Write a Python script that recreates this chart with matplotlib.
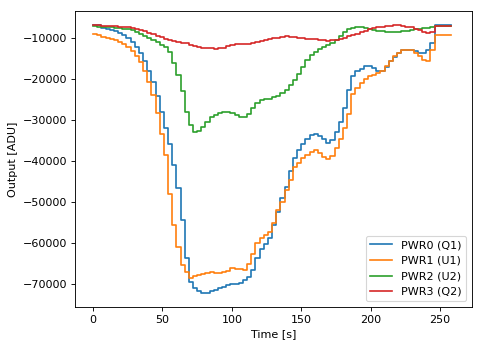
#!/usr/bin/env python3
"""Photodiode outputs of the four power monitors over one sweep."""
import matplotlib

matplotlib.use("Agg")
import matplotlib.pyplot as plt
import numpy as np

DPI = 80

# readout cadence [s]
TIME_S = np.arange(0, 261, 3)

PWR0_Q1 = [
    -6800, -6800, -7700, -7900, -8200, -8400, -8800, -9300, -10000, -11000,
    -12200, -13800, -15600, -18000, -20800, -24200, -28000, -32000, -35800, -41000,
    -46500, -54400, -63500, -69400, -70900, -71600, -72100, -72000, -71600, -71300,
    -71000, -70600, -70200, -70000, -69800, -69600, -69000, -68200, -66500, -63500,
    -61500, -60200, -58800, -55500, -52500, -49000, -46200, -42500, -39200, -37200,
    -35800, -34600, -33700, -33400, -33800, -34700, -35500, -34800, -33000, -30600,
    -27000, -22800, -19300, -18100, -17600, -17000, -16800, -17300, -18000, -18200,
    -17200, -15700, -14600, -13800, -13100, -13000, -13100, -13300, -13600, -13700,
    -13000, -11200, -6800, -6800, -6800, -6800, -6800,
]

PWR1_U1 = [
    -9100, -9300, -9900, -10000, -10200, -10500, -11000, -11600, -12300, -13200,
    -14400, -15900, -18200, -20800, -24000, -28400, -33300, -38500, -48000, -55500,
    -61000, -65200, -67000, -68500, -68000, -67800, -67500, -67300, -67000, -67300,
    -67300, -67100, -66700, -66000, -66200, -66200, -66400, -65000, -62700, -60000,
    -58800, -58000, -57300, -55000, -52000, -50000, -47000, -44500, -41500, -40400,
    -39300, -38500, -37800, -37400, -38000, -39000, -39600, -38800, -36800, -34600,
    -32000, -28500, -23800, -22200, -21000, -20000, -19300, -19000, -18600, -18000,
    -16800, -15600, -14500, -13600, -13000, -12900, -13100, -13600, -14400, -15500,
    -15700, -13000, -9300, -9300, -9300, -9300, -9300,
]

PWR2_U2 = [
    -7200, -7300, -7400, -7400, -7500, -7600, -7600, -7800, -8000, -8200,
    -8600, -9000, -9500, -10000, -10600, -11100, -11700, -12300, -13500, -16200,
    -19100, -22900, -28000, -31300, -32900, -32700, -31700, -30400, -29400, -28800,
    -28300, -28000, -28000, -28200, -28700, -29300, -29400, -28600, -27000, -25800,
    -25200, -25000, -24800, -24500, -24100, -23500, -22800, -21500, -20200, -18900,
    -17200, -15400, -14200, -13400, -12800, -12300, -11800, -11200, -10600, -9600,
    -8700, -8000, -7600, -7400, -7500, -7700, -7900, -8100, -8300, -8400,
    -8500, -8500, -8500, -8500, -8400, -8300, -8100, -8000, -7900, -7700,
    -7600, -7400, -7200, -7200, -7200, -7200, -7200,
]

PWR3_Q2 = [
    -7000, -7000, -7100, -7100, -7100, -7200, -7300, -7400, -7500, -7600,
    -7800, -8100, -8400, -8800, -9100, -9500, -9800, -10200, -10500, -10800,
    -11000, -11200, -11400, -11700, -11900, -12200, -12400, -12500, -12600, -12700,
    -12600, -12400, -12100, -11800, -11500, -11500, -11500, -11500, -11200, -11000,
    -10800, -10600, -10300, -10100, -10000, -9800, -9700, -9800, -9900, -10000,
    -10100, -10200, -10300, -10300, -10500, -10600, -10700, -10600, -10500, -10300,
    -10000, -9700, -9400, -9100, -8700, -8300, -8000, -7700, -7500, -7400,
    -7200, -7100, -7000, -7000, -7100, -7300, -7500, -7800, -8100, -8500,
    -8900, -8600, -7100, -7100, -7100, -7100, -7100,
]

LABELS = ["PWR0 (Q1)", "PWR1 (U1)", "PWR2 (U2)", "PWR3 (Q2)"]


def main() -> None:
    fig = plt.figure(figsize=(483 / DPI, 347 / DPI), dpi=DPI)
    ax = fig.add_axes([0.1553, 0.1153, 0.8219, 0.853])

    for series, label in zip([PWR0_Q1, PWR1_U1, PWR2_U2, PWR3_Q2], LABELS):
        ax.plot(TIME_S, series, drawstyle="steps-post", label=label)

    ax.set_xlim(-13, 273)
    ax.set_ylim(-75500, -3500)
    ax.set_xlabel("Time [s]")
    ax.set_ylabel("Output [ADU]")
    ax.legend(loc="lower right")

    fig.savefig("out.png", dpi=DPI)
    plt.close(fig)


if __name__ == "__main__":
    main()
